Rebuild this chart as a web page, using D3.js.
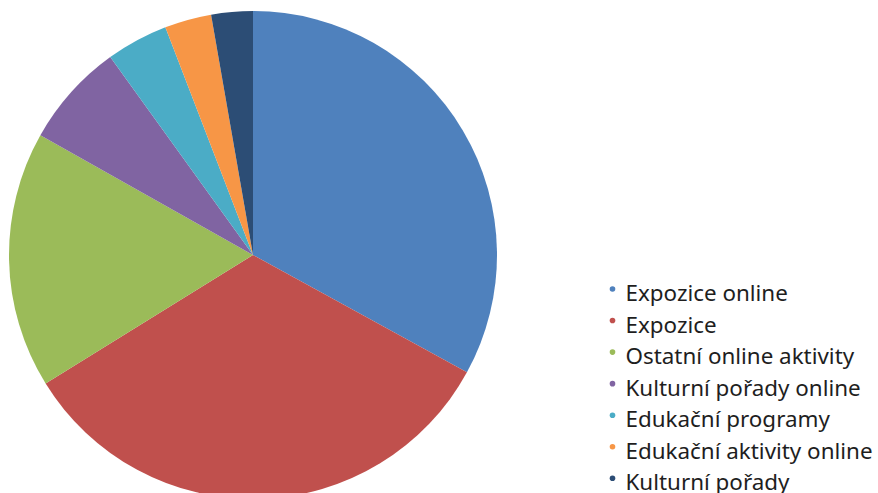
<!DOCTYPE html>
<html><head><meta charset="utf-8">
<script src="https://cdn.jsdelivr.net/npm/d3@7"></script>
<style>body{margin:0;background:#fff}svg{display:block}</style>
</head><body>
<svg id="c" width="878" height="493"></svg>
<script>
const categories = ["Expozice online","Expozice","Ostatní online aktivity","Kulturní pořady online","Edukační programy","Edukační aktivity online","Kulturní pořady"];
const values = [33.0, 33.2, 17.0, 6.9, 4.1, 3.1, 2.75];
const colors = ["#4F81BD","#C0504D","#9BBB59","#8064A2","#4BACC6","#F79646","#2C4D75"];

const svg = d3.select("#c");
const cx = 253, cy = 255, R = 244;
const pie = d3.pie().sort(null).value(d => d)(values);
const arc = d3.arc().innerRadius(0).outerRadius(R);
svg.append("g").attr("transform", `translate(${cx},${cy})`)
  .selectAll("path").data(pie).join("path")
  .attr("d", arc).attr("fill", (d,i) => colors[i]);

const ly = d3.scalePoint().domain(categories).range([301, 490.3]);
const lg = svg.append("g");
const rows = lg.selectAll("g").data(categories).join("g")
  .attr("transform", d => `translate(612.5,${ly(d)})`);
rows.append("circle").attr("cy", -12).attr("r", 2.8).attr("fill", (d,i) => colors[i]);
rows.append("text").attr("x", 13)
  .attr("font-family", "'Noto Sans', sans-serif").attr("font-size", 22.4)
  .attr("fill", "#1e1e1e").text(d => d);
</script>
</body></html>
